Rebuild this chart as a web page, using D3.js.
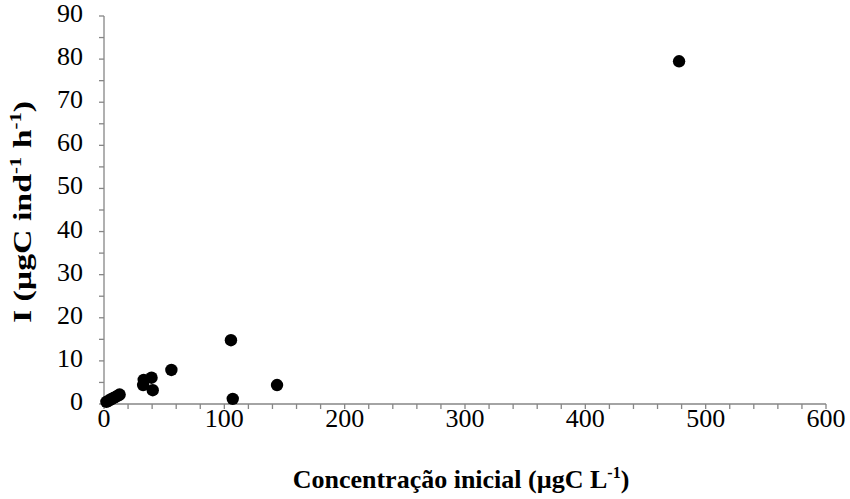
<!DOCTYPE html>
<html><head><meta charset="utf-8">
<script src="https://cdn.jsdelivr.net/npm/d3@7"></script>
<style>body{margin:0;background:#fff}svg{display:block}</style>
</head><body>
<script>
const concX = [2, 4, 6, 8, 10, 12, 13, 33, 32.5, 39.5, 40.5, 56, 105.5, 107, 143.8, 477.9];
const intakeY = [0.5, 0.8, 1.1, 1.4, 1.7, 2.0, 2.2, 5.6, 4.4, 6.1, 3.2, 7.9, 14.8, 1.2, 4.4, 79.5];
const xTicks = [0, 100, 200, 300, 400, 500, 600];
const yTicks = [0, 10, 20, 30, 40, 50, 60, 70, 80, 90];

const W = 850, H = 499;
const svg = d3.select("body").append("svg").attr("width", W).attr("height", H);
const x = d3.scaleLinear().domain([0, 600]).range([104, 826]);
const y = d3.scaleLinear().domain([0, 90]).range([404, 16]);
const axisColor = "#868686";
const font = "'Liberation Serif', 'Times New Roman', serif";

const gx = svg.append("g");
gx.selectAll("line.t").data(d3.range(0, 601, 20)).join("line")
  .attr("x1", d => x(d)).attr("x2", d => x(d)).attr("y1", 404).attr("y2", 409)
  .attr("stroke", axisColor).attr("stroke-width", 1.3);
gx.append("line").attr("x1", x(0)).attr("x2", x(600)).attr("y1", 404).attr("y2", 404)
  .attr("stroke", axisColor).attr("stroke-width", 1.3);
gx.selectAll("text").data(xTicks).join("text")
  .attr("x", d => x(d)).attr("y", 421).attr("text-anchor", "middle")
  .attr("dominant-baseline", "middle")
  .attr("font-family", font).attr("font-size", 26).text(d => d);

const gy = svg.append("g");
gy.selectAll("line.t").data(d3.range(0, 91, 5)).join("line")
  .attr("x1", 99).attr("x2", 104).attr("y1", d => y(d)).attr("y2", d => y(d))
  .attr("stroke", axisColor).attr("stroke-width", 1.3);
gy.append("line").attr("x1", 104).attr("x2", 104).attr("y1", y(0)).attr("y2", y(90))
  .attr("stroke", axisColor).attr("stroke-width", 1.3);
gy.selectAll("text").data(yTicks).join("text")
  .attr("x", 83).attr("y", d => y(d)).attr("text-anchor", "end")
  .attr("dominant-baseline", "middle")
  .attr("font-family", font).attr("font-size", 26).text(d => d);

svg.append("g").selectAll("circle").data(concX.map((c, i) => [c, intakeY[i]])).join("circle")
  .attr("cx", d => x(d[0])).attr("cy", d => y(d[1])).attr("r", 6.2).attr("fill", "#000");

const xt = svg.append("text").attr("x", 461).attr("y", 488).attr("text-anchor", "middle")
  .attr("font-family", font).attr("font-size", 26).attr("font-weight", "bold");
xt.append("tspan").text("Concentração inicial (µgC L");
xt.append("tspan").attr("font-size", 16).attr("dy", -10).text("-1");
xt.append("tspan").attr("dy", 10).text(")");

const yt = svg.append("text").attr("transform", "translate(31,212) rotate(-90) scale(1.3,1)")
  .attr("text-anchor", "middle")
  .attr("font-family", font).attr("font-size", 26).attr("font-weight", "bold");
yt.append("tspan").text("I (µgC ind");
yt.append("tspan").attr("font-size", 16).attr("dy", -10).text("-1");
yt.append("tspan").attr("dy", 10).text(" h");
yt.append("tspan").attr("font-size", 16).attr("dy", -10).text("-1");
yt.append("tspan").attr("dy", 10).text(")");
</script>
</body></html>
